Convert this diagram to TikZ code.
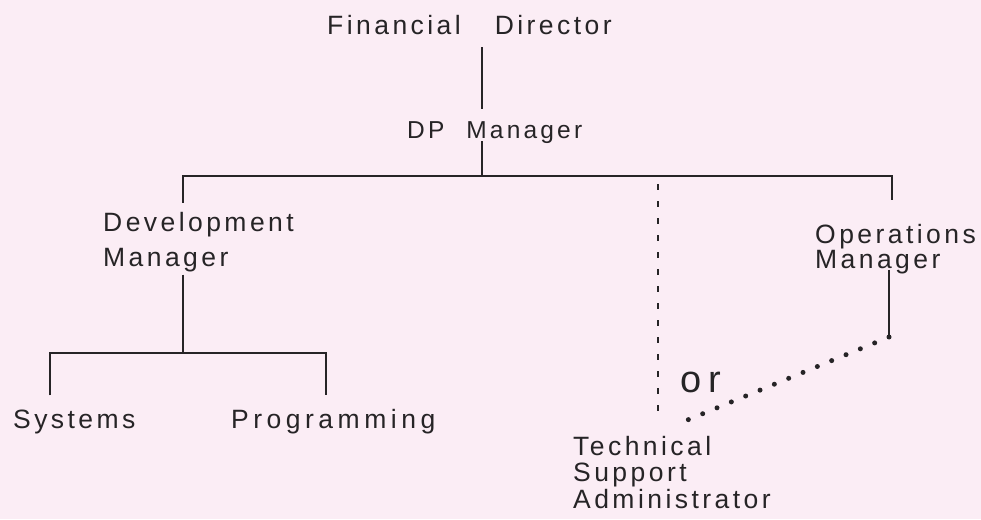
\documentclass[tikz,border=0pt]{standalone}
\usepackage{fontspec}
\setmainfont{Liberation Sans}[LetterSpace=13]
\usetikzlibrary{calc}
\definecolor{bg}{RGB}{251,237,245}
\definecolor{ink}{RGB}{38,36,38}
\begin{document}
\begin{tikzpicture}[x=1pt,y=-1pt,
  lbl/.style={anchor=base west, inner sep=0pt, text=ink, align=left,
    font=\fontsize{26.5}{26.5}\selectfont},
  orlbl/.style={anchor=base west, inner sep=0pt, text=ink,
    font=\fontsize{38}{38}\selectfont\addfontfeature{LetterSpace=20}},
  ln/.style={line width=2pt, draw=ink},
  dashln/.style={line width=1.6pt, draw=ink, dash pattern=on 6pt off 11pt},
  dotln/.style={line width=5pt, draw=ink, line cap=round, dash pattern=on 0pt off 15.5pt}]
\fill[bg] (0,0) rectangle (981,519);
\useasboundingbox (0,0) rectangle (981,519);
% nodes (multi-line nodes: base = baseline of last line)
\node[lbl] (fd) at (327,35) {Financial\hspace{34pt}Director};
\node[lbl, font=\fontsize{24.5}{24.5}\selectfont] (dp) at (407,138) {DP\hspace{22pt}Manager};
\node[lbl] (dev) at (103,266) {Development\\[8.5pt]Manager};
\node[lbl] (ops) at (815,268) {Operations\\[-1.5pt]Manager};
\node[lbl] (sys) at (13,428) {Systems};
\node[lbl] (prog) at (231,428) {\addfontfeature{LetterSpace=17}Programming};
\node[lbl] (tsa) at (573,508) {Technical\\Support\\Administrator};
\node[orlbl] (or) at (680,392) {or};
% junctions
\coordinate (jt) at (482,176);
\coordinate (jl) at (183,176);
\coordinate (jr) at (892,176);
\coordinate (jd) at (658,176);
\coordinate (jb) at (183,353);
\coordinate (jbl) at (50,353);
\coordinate (jbr) at (326,353);
\coordinate (jo) at (889,337);
\coordinate (de) at (685,421);
% connectors
\draw[ln] ($(fd.south -| jt)+(0,12)$) -- ($(dp.north -| jt)+(0,-12)$);
\draw[ln] ($(dp.south -| jt)+(0,-2)$) -- (jt);
\draw[ln] ($(dev.north -| jl)+(0,-9)$) -- (jl) -- (jr) -- ($(ops.north -| jr)+(0,-24)$);
\draw[ln] ($(dev.south -| jb)+(0,3)$) -- (jb);
\draw[ln] ($(sys.north -| jbl)+(0,-14)$) -- (jbl) -- (jbr) -- ($(prog.north -| jbr)+(0,-14)$);
\draw[ln] ($(ops.south -| jo)+(0,-4)$) -- (jo);
\draw[dotln] (jo) -- (de);
\draw[dashln] ($(jd)+(0,8)$) -- ($(tsa.north -| jd)+(0,-19)$);
\end{tikzpicture}
\end{document}
